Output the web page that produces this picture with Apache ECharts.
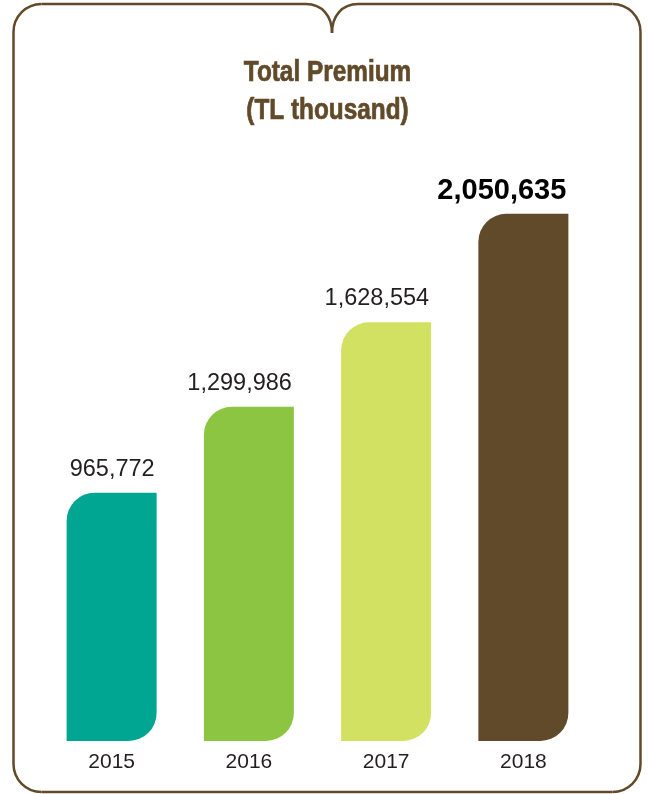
<!DOCTYPE html>
<html>
<head>
<meta charset="utf-8">
<title>Total Premium</title>
<script src="https://cdn.jsdelivr.net/npm/echarts@6/dist/echarts.min.js"></script>
<style>
  html, body { margin: 0; padding: 0; background: #ffffff; }
  #chart { width: 648px; height: 794px; }
</style>
</head>
<body>
<div id="chart"></div>
<script>
// Total premium written per year, in TL thousand
const years = ['2015', '2016', '2017', '2018'];
const totalPremium = [965772, 1299986, 1628554, 2050635];
const titleLines = ['Total Premium', '(TL thousand)'];

const barColors = ['#00a691', '#8cc541', '#d3e163', '#614a29'];
const brown = '#614a29';
const fmt = v => Number(v).toLocaleString('en-US');

const chart = echarts.init(document.getElementById('chart'), null, { renderer: 'canvas' });
const lastIdx = totalPremium.length - 1;

// Frame: rounded box with a small notch at the top centre
const frameStyle = { fill: 'none', stroke: brown, lineWidth: 2.5 };
const L = 13.5, R = 640.5, T = 4, B = 792, r = 28;
const frame = [
  { type: 'line', shape: { x1: L, y1: T + r, x2: L, y2: B - r } },
  { type: 'arc', shape: { cx: L + r, cy: T + r, r: r, startAngle: Math.PI, endAngle: Math.PI * 1.5, clockwise: true } },
  { type: 'line', shape: { x1: L + r, y1: T, x2: 306, y2: T } },
  { type: 'bezierCurve', shape: { x1: 306, y1: T, cpx1: 322, cpy1: T, cpx2: 332, cpy2: 16, x2: 332, y2: 33 } },
  { type: 'bezierCurve', shape: { x1: 332, y1: 33, cpx1: 332, cpy1: 16, cpx2: 342, cpy2: T, x2: 358, y2: T } },
  { type: 'line', shape: { x1: 358, y1: T, x2: R - r, y2: T } },
  { type: 'arc', shape: { cx: R - r, cy: T + r, r: r, startAngle: Math.PI * 1.5, endAngle: Math.PI * 2, clockwise: true } },
  { type: 'line', shape: { x1: R, y1: T + r, x2: R, y2: B - r } },
  { type: 'arc', shape: { cx: R - r, cy: B - r, r: r, startAngle: 0, endAngle: Math.PI * 0.5, clockwise: true } },
  { type: 'line', shape: { x1: R - r, y1: B, x2: L + r, y2: B } },
  { type: 'arc', shape: { cx: L + r, cy: B - r, r: r, startAngle: Math.PI * 0.5, endAngle: Math.PI, clockwise: true } }
].map(el => Object.assign(el, { silent: true, style: frameStyle }));

// Condensed heavy heading
const heading = titleLines.map((t, i) => ({
  type: 'text',
  silent: true,
  x: 327.5,
  y: 73 + i * 37.5,
  scaleX: 0.84,
  style: {
    text: t,
    fill: brown,
    stroke: brown,
    lineWidth: 0.7,
    font: "bold 29px 'Liberation Sans', Arial, sans-serif",
    align: 'center',
    verticalAlign: 'middle'
  }
}));

const option = {
  backgroundColor: '#ffffff',
  animation: false,
  grid: { left: 43, right: 56, top: 124, bottom: 53 },
  xAxis: {
    type: 'category',
    data: years,
    axisLine: { show: false },
    axisTick: { show: false },
    axisLabel: {
      margin: 11,
      fontFamily: "'Liberation Sans', Arial, sans-serif",
      fontSize: 21,
      lineHeight: 20,
      color: '#231f20'
    }
  },
  yAxis: {
    type: 'value',
    min: 0,
    max: 2400000,
    show: false,
    splitLine: { show: false }
  },
  series: [{
    type: 'bar',
    barWidth: 90,
    data: totalPremium.map((v, i) => {
      const item = {
        value: v,
        itemStyle: { color: barColors[i], borderRadius: [28, 0, 28, 0] }
      };
      if (i === lastIdx) {
        item.label = {
          fontSize: 29,
          lineHeight: 29,
          fontWeight: 'bold',
          color: '#000000',
          offset: [-2, -8]
        };
      }
      return item;
    }),
    label: {
      show: true,
      position: ['100%', 0],
      align: 'right',
      verticalAlign: 'bottom',
      offset: [-2, -12],
      formatter: p => fmt(p.value),
      fontFamily: "'Liberation Sans', Arial, sans-serif",
      fontSize: 23.5,
      lineHeight: 23,
      color: '#231f20'
    }
  }],
  graphic: frame.concat(heading)
};

chart.setOption(option);
</script>
</body>
</html>
